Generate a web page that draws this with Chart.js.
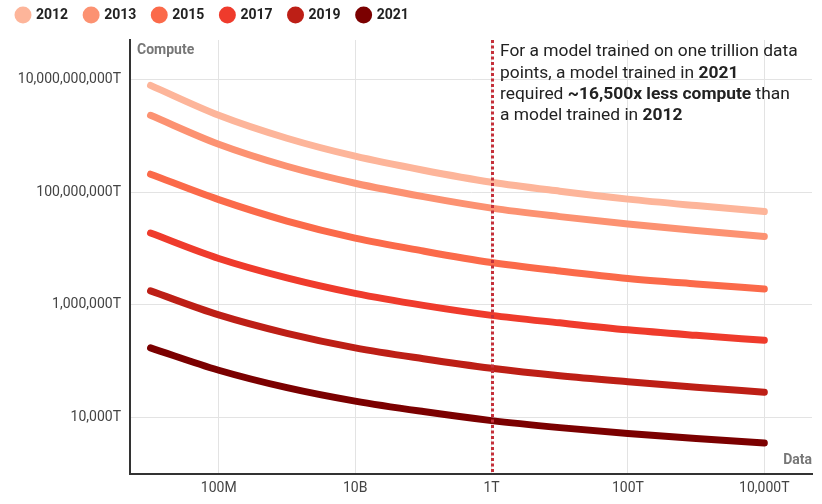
<!DOCTYPE html>
<html>
<head>
<meta charset="utf-8">
<script src="https://cdn.jsdelivr.net/npm/chart.js@4"></script>
<style>
  html, body { margin: 0; padding: 0; background: #fff; }
  #wrap { width: 822px; height: 504px; }
</style>
</head>
<body>
<div id="wrap"><canvas id="chart" width="822" height="504"></canvas></div>
<script>
// data size (number of data points) on x, compute (in T) on y
const dataSizes = [1e7, 1e8, 1e9, 1e10, 1e11, 1e12, 1e13, 1e14, 1e15, 1e16];

const compute2012 = [7.83e9, 2.31e9, 9.04e8, 4.34e8, 2.45e8, 1.50e8, 1.04e8, 7.52e7, 5.77e7, 4.52e7];
const compute2013 = [2.31e9, 7.08e8, 2.88e8, 1.44e8, 8.32e7, 5.21e7, 3.68e7, 2.72e7, 2.08e7, 1.63e7];
const compute2015 = [2.08e8, 7.36e7, 3.07e7, 1.53e7, 9.03e6, 5.65e6, 4.0e6, 2.94e6, 2.35e6, 1.92e6];
const compute2017 = [1.88e7, 6.65e6, 3.01e6, 1.60e6, 9.8e5, 6.52e5, 4.8e5, 3.61e5, 2.88e5, 2.35e5];
const compute2019 = [1.77e6, 6.65e5, 3.13e5, 1.73e5, 1.11e5, 7.52e4, 5.54e4, 4.34e4, 3.47e4, 2.83e4];
const compute2021 = [1.73e5, 6.93e4, 3.40e4, 1.96e4, 1.28e4, 8.85e3, 6.65e3, 5.21e3, 4.25e3, 3.54e3];

const years = ["2012", "2013", "2015", "2017", "2019", "2021"];
const seriesValues = [compute2012, compute2013, compute2015, compute2017, compute2019, compute2021];
const colors = ["#fdb59a", "#fc9272", "#fb6a4a", "#ef3b2c", "#bd1f16", "#7b0000"];

const xTicks = [1e8, 1e10, 1e12, 1e14, 1e16];
const xTickLabels = ["100M", "10B", "1T", "100T", "10,000T"];
const yTicks = [1e4, 1e6, 1e8, 1e10];
const yTickLabels = ["10,000T", "1,000,000T", "100,000,000T", "10,000,000,000T"];

const markerX = 1e12;

// annotation lines, each a list of [text, bold]
const noteLines = [
  [["For a model trained on one trillion data", false]],
  [["points, a model trained in ", false], ["2021", true]],
  [["required ", false], ["~16,500x less compute", true], [" than", false]],
  [["a model trained in ", false], ["2012", true]]
];

const FONT = "Roboto, 'Noto Sans', sans-serif";

const datasets = years.map((yr, i) => ({
  label: yr,
  data: dataSizes.map((x, j) => ({ x: x, y: seriesValues[i][j] })),
  borderColor: colors[i],
  backgroundColor: colors[i],
  borderWidth: 7,
  borderCapStyle: "round",
  borderJoinStyle: "round",
  pointRadius: 0,
  pointHoverRadius: 0,
  cubicInterpolationMode: "monotone",
  fill: false
}));

// keep the legend a fixed height so the plot starts where it should
const legendFix = {
  id: "legendFix",
  beforeInit(chart) {
    const legend = chart.legend;
    const fit = legend.fit;
    legend.fit = function () {
      fit.call(this);
      this.height = 49;
    };
  }
};

const extras = {
  id: "extras",
  afterDatasetsDraw(chart) {
    const ctx = chart.ctx;
    const area = chart.chartArea;
    const xs = chart.scales.x;

    // dotted marker at one trillion
    const mx = Math.round(xs.getPixelForValue(markerX)) + 0.5;
    ctx.save();
    ctx.strokeStyle = "#c5303a";
    ctx.lineWidth = 3;
    ctx.setLineDash([3, 2.5]);
    ctx.beginPath();
    ctx.moveTo(mx, area.top);
    ctx.lineTo(mx, area.bottom);
    ctx.stroke();
    ctx.restore();

    // axis titles
    ctx.save();
    ctx.fillStyle = "#777";
    ctx.font = "bold 14px " + FONT;
    ctx.textBaseline = "middle";
    ctx.textAlign = "left";
    ctx.fillText("Compute", area.left + 7, area.top + 10);
    ctx.textAlign = "right";
    ctx.fillText("Data", area.right, area.bottom - 14);
    ctx.restore();

    // annotation
    ctx.save();
    ctx.fillStyle = "#222";
    ctx.textBaseline = "middle";
    ctx.textAlign = "left";
    noteLines.forEach((parts, i) => {
      let x = mx + 7.5;
      const y = area.top + 12 + i * 21.2;
      parts.forEach(([txt, bold]) => {
        ctx.font = (bold ? "bold " : "") + "17.4px " + FONT;
        ctx.fillText(txt, x, y);
        x += ctx.measureText(txt).width;
      });
    });
    ctx.restore();
  }
};

new Chart(document.getElementById("chart"), {
  type: "line",
  data: { datasets: datasets },
  options: {
    responsive: false,
    animation: false,
    devicePixelRatio: 1,
    layout: { padding: { top: -9, left: 0, right: 10, bottom: 0 } },
    plugins: {
      legend: {
        position: "top",
        align: "start",
        labels: {
          usePointStyle: true,
          pointStyle: "circle",
          boxWidth: 12,
          boxHeight: 12,
          padding: 17,
          color: "#222",
          font: { family: FONT, size: 14, weight: "bold" },
          generateLabels: (chart) =>
            Chart.defaults.plugins.legend.labels.generateLabels(chart)
              .map(item => Object.assign(item, { lineWidth: 0, strokeStyle: item.fillStyle }))
        }
      },
      tooltip: { enabled: false }
    },
    scales: {
      x: {
        type: "logarithmic",
        min: 5e6,
        max: 5e16,
        afterBuildTicks: (scale) => { scale.ticks = xTicks.map(v => ({ value: v })); },
        afterFit: (scale) => { scale.height = 30; },
        ticks: {
          autoSkip: false,
          maxRotation: 0,
          padding: 6,
          color: "#444",
          font: { family: FONT, size: 14 },
          callback: (value, index) => xTickLabels[index]
        },
        grid: { color: "#e3e3e3", lineWidth: 1, drawTicks: false },
        border: { display: true, color: "#333", width: 2 }
      },
      y: {
        type: "logarithmic",
        min: 1e3,
        max: 5e10,
        afterBuildTicks: (scale) => { scale.ticks = yTicks.map(v => ({ value: v })); },
        afterFit: (scale) => { scale.width = 130; },
        ticks: {
          autoSkip: false,
          padding: 9,
          color: "#444",
          font: { family: FONT, size: 14 },
          callback: (value, index) => yTickLabels[index]
        },
        grid: { color: "#e3e3e3", lineWidth: 1, drawTicks: false },
        border: { display: true, color: "#333", width: 2 }
      }
    }
  },
  plugins: [legendFix, extras]
});
</script>
</body>
</html>
